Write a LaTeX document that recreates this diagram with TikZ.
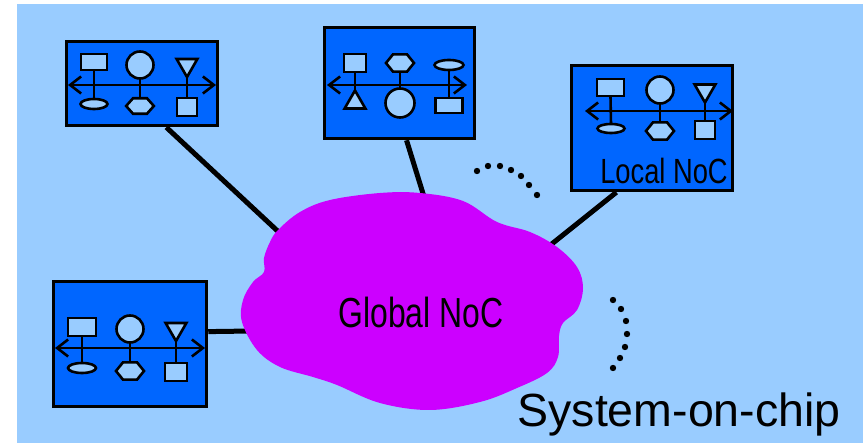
\documentclass[tikz,border=0pt]{standalone}
\usepackage{fontspec}
\setmainfont{Liberation Sans}
\usetikzlibrary{shapes.geometric,arrows.meta}
\definecolor{bgblue}{HTML}{99CCFF}
\definecolor{boxblue}{HTML}{0066FF}
\definecolor{cloudmag}{HTML}{CC00FF}
\pgfdeclarelayer{bglayer}
\pgfdeclarelayer{midlayer}
\pgfsetlayers{bglayer,midlayer,main}
\tikzset{
 pe/.style={draw=black,line width=2.6pt,fill=bgblue,inner sep=0pt,outer sep=0pt},
 rbox/.style={pe,rectangle},
 ebox/.style={pe,ellipse},
 cbox/.style={pe,circle,minimum size=27pt},
 hbox/.style={pe,regular polygon,regular polygon sides=6,minimum size=20pt,xscale=1.4},
 tup/.style={pe,regular polygon,regular polygon sides=3,minimum size=24pt},
 tdown/.style={tup,shape border rotate=180},
 subnet/.style={draw=black,line width=3.5pt,fill=boxblue,inner sep=0pt},
 bus/.style={line width=2.6pt,{Straight Barb[length=11pt,width=17pt]}-{Straight Barb[length=11pt,width=17pt]}},
 tap/.style={line width=2.6pt},
 conn/.style={line width=5pt},
 dotm/.style={fill=black}
}
\begin{document}
\begin{tikzpicture}[x=1pt,y=-1pt]
\useasboundingbox (0,0) rectangle (863,443);
\begin{pgfonlayer}{bglayer}
\fill[bgblue] (17,4) rectangle (863,443);
\end{pgfonlayer}

% subnet boxes
\node[subnet,minimum width=151pt,minimum height=84pt] (b1) at (142,83.5) {};
\node[subnet,minimum width=150pt,minimum height=111pt] (b2) at (399.5,83) {};
\node[subnet,minimum width=161pt,minimum height=125pt] (b3) at (652,128) {};
\node[subnet,minimum width=153pt,minimum height=125pt] (b4) at (130,344) {};

% cloud end points
\coordinate (gc1) at (284,237);
\coordinate (gc2) at (425,200);
\coordinate (gc3) at (548,247);
\coordinate (gc4) at (252,331);

% connectors (behind boxes and cloud)
\begin{pgfonlayer}{midlayer}
\draw[conn] (b1.299) -- (gc1);
\draw[conn] (b2.277) -- (gc2);
\draw[conn] (b3.241) -- (gc3);
\draw[conn] (b4.9.5) -- (gc4);
\end{pgfonlayer}

% cloud
\fill[cloudmag] plot[smooth cycle,tension=0.6] coordinates {
 (278,230) (300,212) (330,200) (380,193) (420,193) (463,201) (497,222)
 (530,232) (557,247) (577,267) (583,288) (577,310) (563,323) (559,336)
 (558,357) (547,373) (517,388) (480,402) (430,410) (380,403) (337,385)
 (313,377) (280,367) (257,350) (242,322) (243,300) (253,282) (264,272)
 (264,258) (270,242)};
\node[anchor=base,font=\fontsize{42}{42}\selectfont] (gn) at (421,328) {\scalebox{0.76}[1]{Global NoC}};

% box 1 contents
\coordinate (b1l) at (68,85); \coordinate (b1r) at (216,85);
\node[rbox,minimum width=26pt,minimum height=16pt] (r1) at (94,62) {};
\node[ebox,minimum width=27pt,minimum height=10pt] (e1) at (94,104) {};
\node[cbox] (c1) at (140,65) {};
\node[hbox,minimum size=18pt,xscale=1.1] (h1) at (140,106) {};
\node[tdown] (t1) at (187,65) {};
\node[rbox,minimum width=20pt,minimum height=18pt] (s1) at (187,107) {};
\draw[tap] (r1.south) -- (e1.north);
\draw[tap] (c1.south) -- (h1.north);
\draw[tap] (t1.south) -- (s1.north);
\draw[bus] (b1l) -- (b1r);

% box 2 contents
\coordinate (b2l) at (327,85); \coordinate (b2r) at (467,85);
\node[rbox,minimum width=22pt,minimum height=18pt] (r2) at (355,63) {};
\node[tup] (t2) at (355,102.5) {};
\node[hbox] (h2) at (400,63) {};
\node[cbox,minimum size=29pt] (c2) at (400,103) {};
\node[ebox,minimum width=29pt,minimum height=10pt] (e2) at (449,65) {};
\node[rbox,minimum width=27pt,minimum height=15pt] (s2) at (449,105.5) {};
\draw[tap] (r2.south) -- (t2.north);
\draw[tap] (h2.south) -- (c2.north);
\draw[tap] (e2.south) -- (s2.north);
\draw[bus] (b2l) -- (b2r);

% box 3 contents
\coordinate (b3l) at (585,111); \coordinate (b3r) at (733,111);
\node[rbox,minimum width=27pt,minimum height=17pt] (r3) at (610.5,87.5) {};
\node[ebox,minimum width=27pt,minimum height=9pt] (e3) at (611,128.5) {};
\node[cbox] (c3) at (660,90) {};
\node[hbox] (h3) at (660,131) {};
\node[tdown] (t3) at (705,90.5) {};
\node[rbox,minimum width=20pt,minimum height=18pt] (s3) at (705,130) {};
\draw[tap] (r3.south) -- (e3.north);
\draw[tap] (c3.south) -- (h3.north);
\draw[tap] (t3.south) -- (s3.north);
\draw[bus] (b3l) -- (b3r);
\node[anchor=base,font=\fontsize{35}{35}\selectfont] (ln) at (664,184) {\scalebox{0.78}[1]{Local NoC}};

% box 4 contents
\coordinate (b4l) at (55,348); \coordinate (b4r) at (205,348);
\node[rbox,minimum width=28pt,minimum height=18pt] (r4) at (82,327) {};
\node[ebox,minimum width=28pt,minimum height=10pt] (e4) at (82,368) {};
\node[cbox] (c4) at (130,329) {};
\node[hbox] (h4) at (130,371) {};
\node[tdown] (t4) at (176,329) {};
\node[rbox,minimum width=22pt,minimum height=18pt] (s4) at (176,372) {};
\draw[tap] (r4.south) -- (e4.north);
\draw[tap] (c4.south) -- (h4.north);
\draw[tap] (t4.south) -- (s4.north);
\draw[bus] (b4l) -- (b4r);

% dotted arcs
\foreach \p in {(477,171),(488,166),(500,166),(511,170),(521,176),(529,185),(537,195),
  (613,300),(621,309),(626,321),(627,334),(625,347),(620,358),(613,368)}
  \fill[dotm] \p circle (3.2pt);

% caption
\node[anchor=base,font=\fontsize{46.5}{46.5}\selectfont] (soc) at (679,427) {System-on-chip};
\end{tikzpicture}
\end{document}
